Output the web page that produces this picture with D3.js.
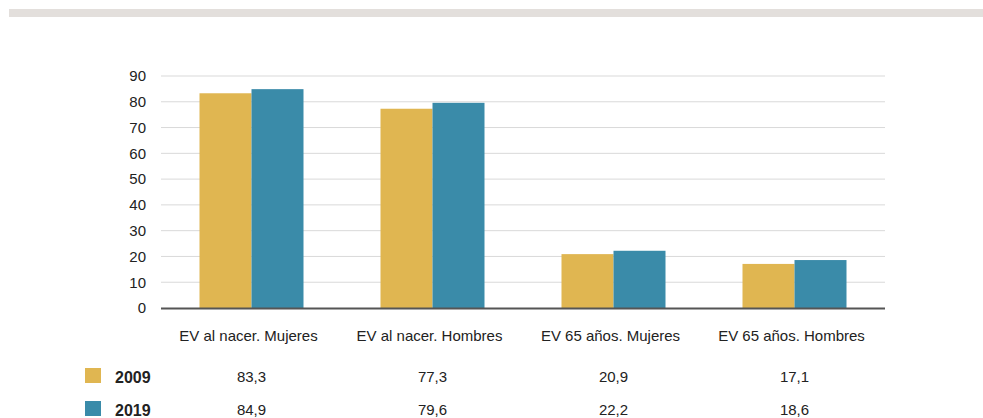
<!DOCTYPE html>
<html>
<head>
<meta charset="utf-8">
<script src="https://cdn.jsdelivr.net/npm/d3@7.9.0/dist/d3.min.js"></script>
<style>
  body { margin: 0; background: #fff; }
  svg { display: block; font-family: "Liberation Sans", Arial, sans-serif; }
</style>
</head>
<body>
<svg id="chart" width="983" height="418"></svg>
<script>
const categories = ['EV al nacer. Mujeres', 'EV al nacer. Hombres', 'EV 65 años. Mujeres', 'EV 65 años. Hombres'];
const years = ['2009', '2019'];
const values2009 = [83.3, 77.3, 20.9, 17.1];
const values2019 = [84.9, 79.6, 22.2, 18.6];
const yTicks = [0, 10, 20, 30, 40, 50, 60, 70, 80, 90];
const colors = ['#e0b651', '#3a8ba9'];

const series = [values2009, values2019];
const svg = d3.select('#chart');

// top grey strip
svg.append('rect').attr('x', 9).attr('y', 9).attr('width', 974).attr('height', 8).attr('fill', '#e3dfdc');

const plotLeft = 161, plotRight = 885, plotTop = 76, plotBottom = 308;

const x = d3.scaleBand().domain(categories).range([plotLeft, plotRight]);
const xs = d3.scaleBand().domain(years).range([0, 104]);
const y = d3.scaleLinear().domain([0, 90]).range([plotBottom, plotTop]);

// gridlines
svg.append('g')
  .selectAll('line')
  .data(yTicks.slice(1))
  .join('line')
  .attr('x1', plotLeft).attr('x2', plotRight)
  .attr('y1', d => y(d)).attr('y2', d => y(d))
  .attr('stroke', '#d9d9d9').attr('stroke-width', 1);

// y axis labels
const yAxis = svg.append('g')
  .attr('transform', `translate(${plotLeft},0)`)
  .call(d3.axisLeft(y).tickValues(yTicks).tickSize(0).tickPadding(15));
yAxis.select('.domain').remove();
yAxis.selectAll('text').attr('font-size', 15).attr('fill', '#222').attr('font-family', null);

// bars
series.forEach((vals, si) => {
  svg.append('g')
    .selectAll('rect')
    .data(vals)
    .join('rect')
    .attr('x', (d, i) => x(categories[i]) + x.bandwidth() / 2 - 52 + xs(years[si]))
    .attr('width', xs.bandwidth())
    .attr('y', d => y(d))
    .attr('height', d => y(0) - y(d))
    .attr('fill', colors[si]);
});

// baseline
svg.append('line')
  .attr('x1', plotLeft).attr('x2', plotRight)
  .attr('y1', plotBottom + 0.5).attr('y2', plotBottom + 0.5)
  .attr('stroke', '#555').attr('stroke-width', 2);

// category labels
svg.append('g')
  .selectAll('text')
  .data(categories)
  .join('text')
  .attr('x', d => x(d) + x.bandwidth() / 2 - 3)
  .attr('y', 340.5)
  .attr('text-anchor', 'middle')
  .attr('font-size', 15)
  .attr('fill', '#222')
  .text(d => d);

// data table
const fmt = v => v.toFixed(1).replace('.', ',');
const rowY = [383, 416];
series.forEach((vals, si) => {
  const row = svg.append('g');
  row.append('rect')
    .attr('x', 85).attr('y', rowY[si] - 15)
    .attr('width', 16).attr('height', 15)
    .attr('fill', colors[si]);
  row.append('text')
    .attr('x', 115).attr('y', rowY[si])
    .attr('font-size', 16).attr('font-weight', 'bold').attr('fill', '#222')
    .text(years[si]);
  row.selectAll('text.v')
    .data(vals)
    .join('text')
    .attr('class', 'v')
    .attr('x', (d, i) => x(categories[i]) + x.bandwidth() / 2)
    .attr('y', rowY[si] - 1)
    .attr('text-anchor', 'middle')
    .attr('font-size', 15).attr('fill', '#222')
    .text(d => fmt(d));
});
</script>
</body>
</html>
